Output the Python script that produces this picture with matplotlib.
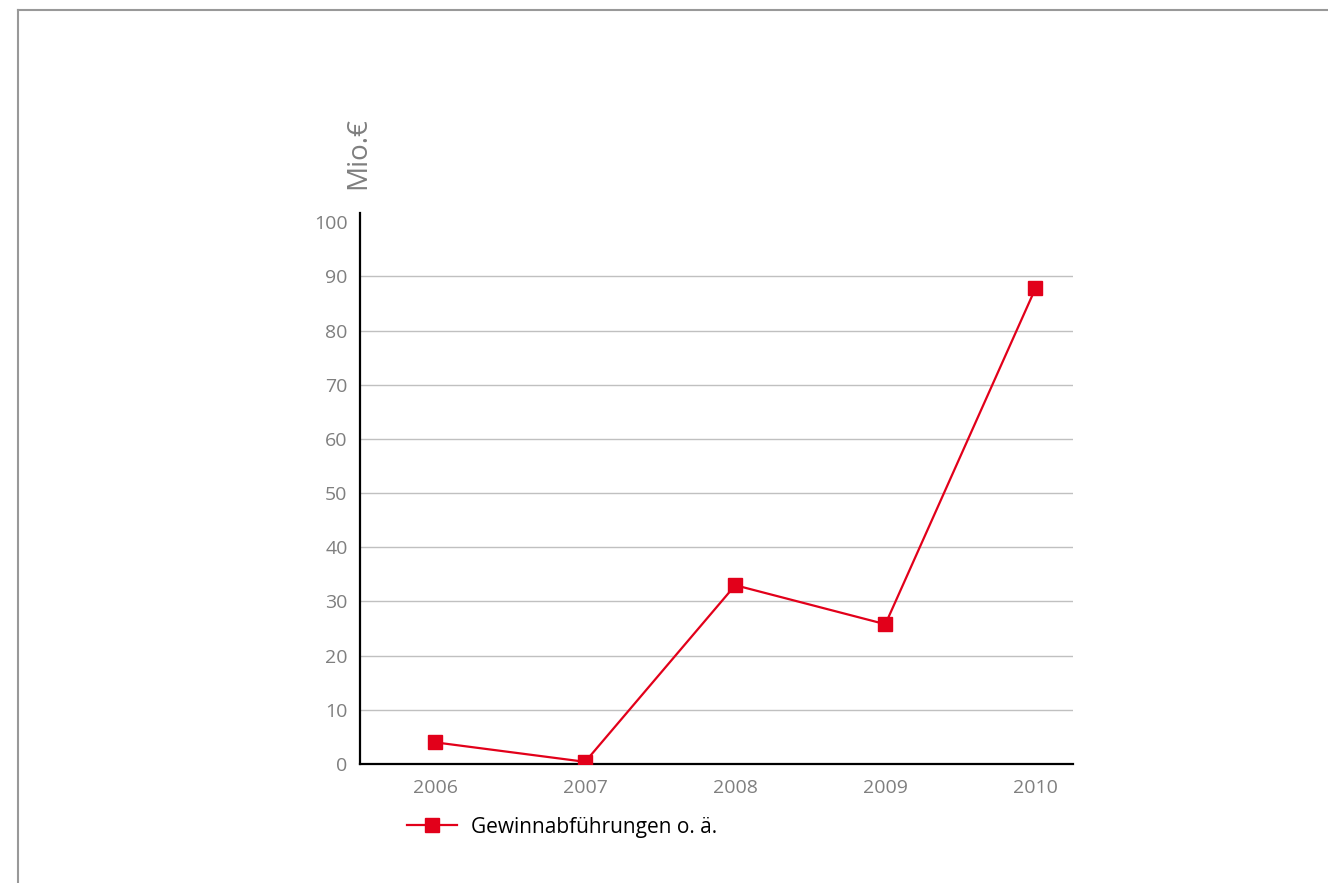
import numpy as np
import matplotlib.pyplot as plt
from matplotlib.lines import Line2D

plt.rcParams['font.family'] = ['Open Sans', 'DejaVu Sans']

years = ['2006', '2007', '2008', '2009', '2010']
werte = [4.0, 0.4, 33.0, 25.8, 87.8]
yticks = [0, 10, 20, 30, 40, 50, 60, 70, 80, 90, 100]

rot = '#e2001a'
grau = '#7f7f7f'

fig = plt.figure(figsize=(13.28, 8.83), dpi=100)
ax = fig.add_axes([360/1328, 119/883, 713/1328, 551/883])

x = np.arange(len(years))
ax.plot(x, werte, color=rot, lw=1.6, marker='s', ms=10.5, label='Gewinnabführungen o. ä.', zorder=3)

ax.set_xlim(-0.5, 4.25)
ax.set_ylim(0, 101.7)
ax.set_yticks(yticks)
ax.set_xticks(x)
ax.set_xticklabels(years)
ax.tick_params(length=0, labelsize=14, labelcolor=grau, pad=9)
ax.tick_params(axis='x', pad=11)
for v in yticks[1:-1]:
    ax.axhline(v, color='#c0c0c0', lw=1, zorder=1)
for s in ['top', 'right']:
    ax.spines[s].set_visible(False)
for s in ['left', 'bottom']:
    ax.spines[s].set_linewidth(1.6)
    ax.spines[s].set_color('black')

fig.text(358/1328, 1 - 153/883, 'Mio.€', rotation=90, fontsize=20, color=grau,
         ha='center', va='center')

fig.legend(loc='center left', bbox_to_anchor=(388/1328, 1 - 827/883), frameon=False,
           fontsize=15, handlelength=2.4, handletextpad=0.67)

# Rahmen oben und links
fig.add_artist(Line2D([18/1328, 1], [1 - 10/883, 1 - 10/883], color='#999999', lw=1.5))
fig.add_artist(Line2D([18/1328, 18/1328], [0, 1 - 10/883], color='#999999', lw=1.5))

fig.savefig('out.png', dpi=100)
